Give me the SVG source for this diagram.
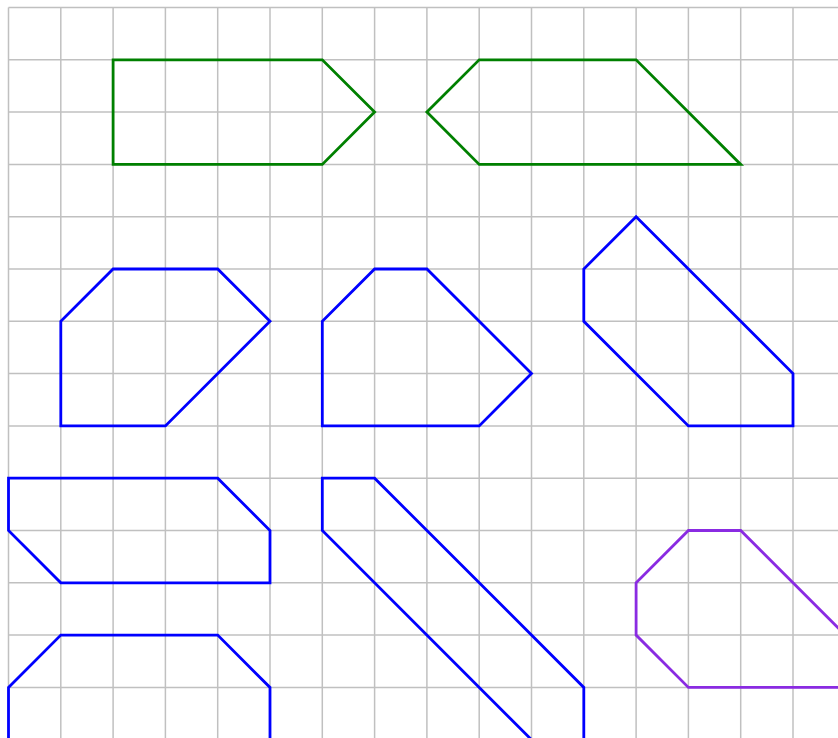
<svg xmlns="http://www.w3.org/2000/svg" width="838" height="738" viewBox="0 0 838 738">
<style>
.grid line{stroke:#c0c0c0;stroke-width:1.5}
.s{fill:none;stroke-width:2.8;stroke-linejoin:miter}
.g{stroke:#008000}
.b{stroke:#0000ff}
.p{stroke:#8a2be2}
</style>
<rect width="838" height="738" fill="#ffffff"/>
<g class="grid" id="grid">
<line x1="8.5" y1="7.5" x2="8.5" y2="760"/>
<line x1="60.8" y1="7.5" x2="60.8" y2="760"/>
<line x1="113.1" y1="7.5" x2="113.1" y2="760"/>
<line x1="165.4" y1="7.5" x2="165.4" y2="760"/>
<line x1="217.7" y1="7.5" x2="217.7" y2="760"/>
<line x1="270" y1="7.5" x2="270" y2="760"/>
<line x1="322.3" y1="7.5" x2="322.3" y2="760"/>
<line x1="374.6" y1="7.5" x2="374.6" y2="760"/>
<line x1="426.9" y1="7.5" x2="426.9" y2="760"/>
<line x1="479.2" y1="7.5" x2="479.2" y2="760"/>
<line x1="531.5" y1="7.5" x2="531.5" y2="760"/>
<line x1="583.8" y1="7.5" x2="583.8" y2="760"/>
<line x1="636.1" y1="7.5" x2="636.1" y2="760"/>
<line x1="688.4" y1="7.5" x2="688.4" y2="760"/>
<line x1="740.7" y1="7.5" x2="740.7" y2="760"/>
<line x1="793" y1="7.5" x2="793" y2="760"/>
<line x1="8.5" y1="7.5" x2="860" y2="7.5"/>
<line x1="8.5" y1="59.8" x2="860" y2="59.8"/>
<line x1="8.5" y1="112.1" x2="860" y2="112.1"/>
<line x1="8.5" y1="164.4" x2="860" y2="164.4"/>
<line x1="8.5" y1="216.7" x2="860" y2="216.7"/>
<line x1="8.5" y1="269" x2="860" y2="269"/>
<line x1="8.5" y1="321.3" x2="860" y2="321.3"/>
<line x1="8.5" y1="373.6" x2="860" y2="373.6"/>
<line x1="8.5" y1="425.9" x2="860" y2="425.9"/>
<line x1="8.5" y1="478.2" x2="860" y2="478.2"/>
<line x1="8.5" y1="530.5" x2="860" y2="530.5"/>
<line x1="8.5" y1="582.8" x2="860" y2="582.8"/>
<line x1="8.5" y1="635.1" x2="860" y2="635.1"/>
<line x1="8.5" y1="687.4" x2="860" y2="687.4"/>
</g>
<g id="shape1"><polygon class="s g" points="113.1,59.8 322.3,59.8 374.6,112.1 322.3,164.4 113.1,164.4"/></g>
<g id="shape2"><polygon class="s g" points="479.2,59.8 636.1,59.8 740.7,164.4 479.2,164.4 426.9,112.1"/></g>
<g id="shape3"><polygon class="s b" points="113.1,269 217.7,269 270,321.3 165.4,425.9 60.8,425.9 60.8,321.3"/></g>
<g id="shape4"><polygon class="s b" points="374.6,269 426.9,269 531.5,373.6 479.2,425.9 322.3,425.9 322.3,321.3"/></g>
<g id="shape5"><polygon class="s b" points="636.1,216.7 793,373.6 793,425.9 688.4,425.9 583.8,321.3 583.8,269"/></g>
<g id="shape6"><polygon class="s b" points="8.5,478.2 217.7,478.2 270,530.5 270,582.8 60.8,582.8 8.5,530.5"/></g>
<g id="shape7"><polygon class="s b" points="322.3,478.2 374.6,478.2 583.8,687.4 583.8,739.7 531.5,739.7 322.3,530.5"/></g>
<g id="shape8"><polygon class="s b" points="8.5,687.4 60.8,635.1 217.7,635.1 270,687.4 270,792 8.5,792"/></g>
<g id="shape9"><polygon class="s p" points="688.4,530.5 740.7,530.5 845.3,635.1 845.3,687.4 688.4,687.4 636.1,635.1 636.1,582.8"/></g>
<g id="connectors"></g>
</svg>
